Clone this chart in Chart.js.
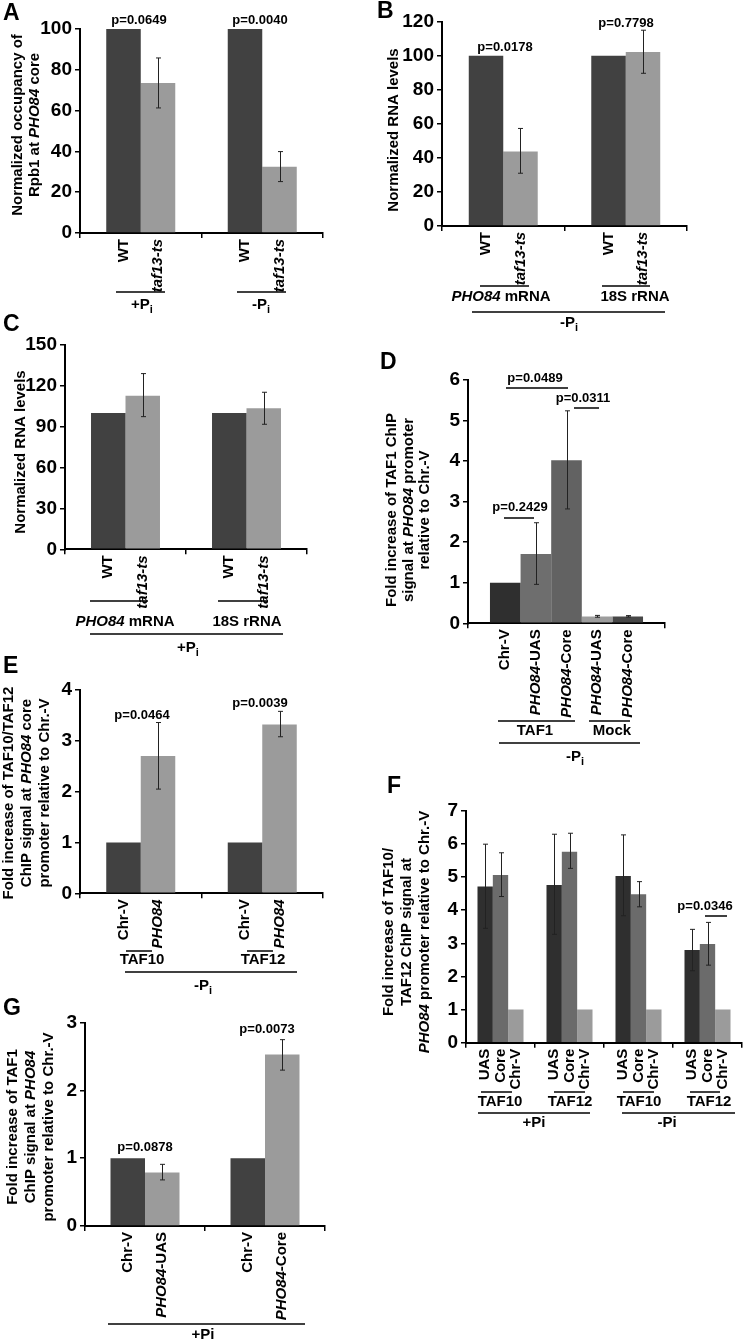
<!DOCTYPE html>
<html><head><meta charset="utf-8">
<script src="https://cdn.jsdelivr.net/npm/chart.js@4.4.1/dist/chart.umd.min.js"></script>
<style>
html,body{margin:0;padding:0;background:#fff;}
#wrap{position:relative;width:745px;height:1342px;overflow:hidden;background:#fff;}
canvas{position:absolute;}
</style></head><body><div id="wrap"></div>
<script>
// ---------------- DATA ----------------
// Panel A: Rpb1 occupancy at PHO84 core
const A_groups = ['+Pi', '-Pi'];
const A_wt = [100, 100];
const A_taf = [73.5, 32.5];
const A_tafLow = [61.3, 25.2];
const A_tafHigh = [85.8, 39.9];
// Panel B: RNA levels, -Pi
const B_groups = ['PHO84 mRNA', '18S rRNA'];
const B_wt = [100, 100];
const B_taf = [43.8, 102.2];
const B_tafLow = [31.0, 89.7];
const B_tafHigh = [57.3, 115.0];
// Panel C: RNA levels, +Pi
const C_groups = ['PHO84 mRNA', '18S rRNA'];
const C_wt = [100, 100];
const C_taf = [112.8, 103.5];
const C_tafLow = [97.4, 91.8];
const C_tafHigh = [129.0, 115.3];
// Panel D: TAF1 ChIP, -Pi
const D_bars = ['Chr-V', 'PHO84-UAS', 'PHO84-Core', 'Mock PHO84-UAS', 'Mock PHO84-Core'];
const D_values = [1.0, 1.71, 4.02, 0.17, 0.17];
const D_low = [null, 0.96, 2.82, 0.15, 0.155];
const D_high = [null, 2.48, 5.24, 0.195, 0.19];
// Panel E: TAF10/TAF12 ChIP, -Pi
const E_groups = ['TAF10', 'TAF12'];
const E_chrV = [1, 1];
const E_pho84 = [2.70, 3.32];
const E_pho84Low = [2.05, 3.08];
const E_pho84High = [3.36, 3.58];
// Panel F: TAF10/TAF12 ChIP, +Pi / -Pi
const F_groups = ['TAF10 +Pi', 'TAF12 +Pi', 'TAF10 -Pi', 'TAF12 -Pi'];
const F_uas = [4.71, 4.76, 5.03, 2.80];
const F_uasLow = [3.45, 3.27, 3.83, 2.17];
const F_uasHigh = [5.99, 6.29, 6.27, 3.42];
const F_core = [5.06, 5.76, 4.48, 2.98];
const F_coreLow = [4.41, 5.26, 4.10, 2.34];
const F_coreHigh = [5.73, 6.32, 4.86, 3.63];
const F_chrV = [1, 1, 1, 1];
// Panel G: TAF1 ChIP, +Pi
const G_groups = ['UAS', 'Core'];
const G_chrV = [1, 1];
const G_pho84 = [0.79, 2.53];
const G_pho84Low = [0.68, 2.30];
const G_pho84High = [0.91, 2.75];

// ---------------- DRAWING HELPERS ----------------
const FONT = '"Liberation Sans", Arial, Helvetica, sans-serif';
const DARK = '#414141', LIGHT = '#9b9b9b';

function R(str){
  const out=[]; const re=/\*([^*]+)\*|_\{([^}]+)\}|([^*_]+)/g; let m;
  while((m=re.exec(str))){
    if(m[1]) out.push({t:m[1],i:true});
    else if(m[2]) out.push({t:m[2],sub:true});
    else out.push({t:m[3]});
  }
  return out;
}
function fontFor(s,size){
  return (s.i?'italic ':'')+'bold '+(s.sub?Math.round(size*0.72):size)+'px '+FONT;
}
function drawRich(ctx, segs, x, y, size, align){
  const ws = segs.map(s=>{ctx.font=fontFor(s,size);return ctx.measureText(s.t).width;});
  const total = ws.reduce((a,b)=>a+b,0);
  let sx = align==='center'? x-total/2 : align==='right'? x-total : x;
  ctx.textAlign='left'; ctx.textBaseline='middle'; ctx.fillStyle='#000';
  segs.forEach((s,k)=>{
    ctx.font=fontFor(s,size);
    ctx.fillText(s.t, sx, y+(s.sub?size*0.32:0));
    sx+=ws[k];
  });
}

function makePanel(p){
  const wrap=document.getElementById('wrap');
  const c=document.createElement('canvas');
  const [bx,by,bw,bh]=p.box;
  c.width=bw; c.height=bh;
  c.style.left=bx+'px'; c.style.top=by+'px'; c.style.width=bw+'px'; c.style.height=bh+'px';
  wrap.appendChild(c);
  const [al,at,ar,ab]=p.area;
  const yW=40, xH=6;
  const anno={
    id:'anno'+p.id,
    afterDatasetsDraw(chart){
      const ctx=chart.ctx, ys=chart.scales.y;
      ctx.save();
      ctx.strokeStyle='#222'; ctx.lineWidth=1;
      chart.data.datasets.forEach((ds,di)=>{
        if(!ds.errLow) return;
        const meta=chart.getDatasetMeta(di);
        meta.data.forEach((bar,i)=>{
          const lo=ds.errLow[i], hi=ds.errHigh[i];
          if(lo==null||hi==null) return;
          const x=Math.round(bar.x)+0.5, y1=ys.getPixelForValue(lo), y2=ys.getPixelForValue(hi);
          ctx.beginPath();
          ctx.moveTo(x,y1); ctx.lineTo(x,y2);
          ctx.moveTo(x-2.5,y1); ctx.lineTo(x+2.5,y1);
          ctx.moveTo(x-2.5,y2); ctx.lineTo(x+2.5,y2);
          ctx.stroke();
        });
      });
      ctx.restore();
    },
    afterDraw(chart){
      const ctx=chart.ctx;
      ctx.save();
      const top=chart.chartArea.bottom+6;
      chart.data.datasets.forEach((ds,di)=>{
        if(!ds.barLabels) return;
        const meta=chart.getDatasetMeta(di);
        meta.data.forEach((bar,i)=>{
          const lab=ds.barLabels[i]; if(!lab) return;
          ctx.save();
          ctx.translate(bar.x, top);
          ctx.rotate(-Math.PI/2);
          drawRich(ctx, R(lab), 0, 0, 15, 'right');
          ctx.restore();
        });
      });
      (p.yTitle||[]).forEach(l=>{
        ctx.save();
        ctx.translate(l[0]-bx, p.yTitleY-by);
        ctx.rotate(-Math.PI/2);
        drawRich(ctx, R(l[1]), 0, 0, 15, 'center');
        ctx.restore();
      });
      (p.texts||[]).forEach(t=>{
        drawRich(ctx, R(t[2]), t[0]-bx, t[1]-by, t[3]||15, t[4]||'center');
      });
      ctx.strokeStyle='#000'; ctx.lineWidth=1.5;
      (p.lines||[]).forEach(l=>{
        const yy=Math.round(l[2]-by);
        ctx.beginPath(); ctx.moveTo(l[0]-bx,yy); ctx.lineTo(l[1]-bx,yy); ctx.stroke();
      });
      ctx.restore();
    }
  };
  new Chart(c,{
    type:'bar',
    data:{labels:p.labels, datasets:p.datasets.map(d=>Object.assign({
      backgroundColor:d.color, borderWidth:0, barPercentage:1, categoryPercentage:p.catPct
    },d))},
    options:{
      responsive:false, animation:false, devicePixelRatio:1,
      layout:{autoPadding:false, padding:{left:al-bx-yW, top:at-by, right:bx+bw-ar, bottom:by+bh-ab-xH}},
      plugins:{legend:{display:false}, tooltip:{enabled:false}},
      scales:{
        x:{
          ticks:{display:false},
          grid:{display:true, drawOnChartArea:false, drawTicks:true, tickLength:5, color:'#000', lineWidth:1.5, offset:true},
          border:{color:'#000', width:2},
          afterFit(s){ s.height=xH; }
        },
        y:{
          min:0, max:p.yMax,
          ticks:{stepSize:p.yStep, color:'#000', padding:3, font:{family:FONT, weight:'bold', size:19}},
          grid:{display:true, drawOnChartArea:false, drawTicks:true, tickLength:5, color:'#000', lineWidth:1.5},
          border:{color:'#000', width:2},
          afterFit(s){ s.width=yW; }
        }
      }
    },
    plugins:[anno]
  });
}

// ---------------- PANELS ----------------
makePanel({
  id:'A', box:[0,0,372,320], area:[80,29,323,233], yMax:100, yStep:20, catPct:0.568,
  labels:A_groups,
  datasets:[
    {data:A_wt, color:DARK, barLabels:['WT','WT']},
    {data:A_taf, color:LIGHT, errLow:A_tafLow, errHigh:A_tafHigh, barLabels:['*taf13-ts*','*taf13-ts*']}
  ],
  yTitle:[[18,'Normalized occupancy of'],[35,'Rpb1 at *PHO84* core']], yTitleY:125,
  texts:[[3,14,'A',23,'left'],[139,20,'p=0.0649',13],[260,20,'p=0.0040',13],
         [142,305,'+P_{i}'],[261,305,'-P_{i}']],
  lines:[[116,165,292],[237,286,292]]
});
makePanel({
  id:'B', box:[372,0,373,335], area:[442,21.7,687,226], yMax:120, yStep:20, catPct:0.563,
  labels:B_groups,
  datasets:[
    {data:B_wt, color:DARK, barLabels:['WT','WT']},
    {data:B_taf, color:LIGHT, errLow:B_tafLow, errHigh:B_tafHigh, barLabels:['*taf13-ts*','*taf13-ts*']}
  ],
  yTitle:[[394,'Normalized RNA levels']], yTitleY:130,
  texts:[[377,12,'B',23,'left'],[505,47,'p=0.0178',13],[626,23,'p=0.7798',13],
         [501,297,'*PHO84* mRNA'],[635,297,'18S rRNA'],[569,323,'-P_{i}']],
  lines:[[480,529,286],[602,650,286],[472,665,312]]
});
makePanel({
  id:'C', box:[0,305,372,355], area:[65,345,307,549.3], yMax:150, yStep:30, catPct:0.57,
  labels:C_groups,
  datasets:[
    {data:C_wt, color:DARK, barLabels:['WT','WT']},
    {data:C_taf, color:LIGHT, errLow:C_tafLow, errHigh:C_tafHigh, barLabels:['*taf13-ts*','*taf13-ts*']}
  ],
  yTitle:[[21,'Normalized RNA levels']], yTitleY:452,
  texts:[[3,325,'C',23,'left'],
         [125,622,'*PHO84* mRNA'],[247,622,'18S rRNA'],[188,648,'+P_{i}']],
  lines:[[90,148,601],[218,268,601],[90,283,634]]
});
makePanel({
  id:'D', box:[372,340,373,430], area:[468,380,665,623.3], yMax:6, yStep:1, catPct:0.777,
  labels:['TAF1 / Mock'],
  datasets:[
    {data:[D_values[0]], color:'#2f2f2f', barLabels:['Chr-V']},
    {data:[D_values[1]], color:'#6e6e6e', errLow:[D_low[1]], errHigh:[D_high[1]], barLabels:['*PHO84*-UAS']},
    {data:[D_values[2]], color:'#626262', errLow:[D_low[2]], errHigh:[D_high[2]], barLabels:['*PHO84*-Core']},
    {data:[D_values[3]], color:'#9d9d9d', errLow:[D_low[3]], errHigh:[D_high[3]], barLabels:['*PHO84*-UAS']},
    {data:[D_values[4]], color:'#474747', errLow:[D_low[4]], errHigh:[D_high[4]], barLabels:['*PHO84*-Core']}
  ],
  yTitle:[[392,'Fold increase of TAF1 ChIP'],[409,'signal at *PHO84* promoter'],[425,'relative to Chr.-V']], yTitleY:510,
  texts:[[380,363,'D',23,'left'],[535,378,'p=0.0489',13],[583,398,'p=0.0311',13],[520,507,'p=0.2429',13],
         [535,731,'TAF1'],[612,731,'Mock'],[575,757,'-P_{i}']],
  lines:[[506,568,388],[574,599,408],[504,534,518],[498,575,721],[589,630,721],[499,640,743]]
});
makePanel({
  id:'E', box:[0,650,372,350], area:[80,690,323,893.3], yMax:4, yStep:1, catPct:0.568,
  labels:E_groups,
  datasets:[
    {data:E_chrV, color:DARK, barLabels:['Chr-V','Chr-V']},
    {data:E_pho84, color:LIGHT, errLow:E_pho84Low, errHigh:E_pho84High, barLabels:['*PHO84*','*PHO84*']}
  ],
  yTitle:[[9,'Fold increase of TAF10/TAF12'],[27,'ChIP signal at *PHO84* core'],[45,'promoter relative to Chr.-V']], yTitleY:793,
  texts:[[3,667,'E',23,'left'],[142,715,'p=0.0464',13],[260,703,'p=0.0039',13],
         [142,960,'TAF10'],[263,960,'TAF12'],[203,986,'-P_{i}']],
  lines:[[126,152,951],[247,273,951],[125,297,972]]
});
makePanel({
  id:'F', box:[372,770,373,370], area:[466,810.7,742,1042.7], yMax:7, yStep:1, catPct:0.667,
  labels:F_groups,
  datasets:[
    {data:F_uas, color:'#2f2f2f', errLow:F_uasLow, errHigh:F_uasHigh, barLabels:['UAS','UAS','UAS','UAS']},
    {data:F_core, color:'#6b6b6b', errLow:F_coreLow, errHigh:F_coreHigh, barLabels:['Core','Core','Core','Core']},
    {data:F_chrV, color:'#9b9b9b', barLabels:['Chr-V','Chr-V','Chr-V','Chr-V']}
  ],
  yTitle:[[389,'Fold increase of TAF10/'],[407,'TAF12 ChIP signal at'],[425,'*PHO84* promoter relative to Chr.-V']], yTitleY:932,
  texts:[[387,787,'F',23,'left'],[705,906,'p=0.0346',13],
         [500,1102,'TAF10'],[570,1102,'TAF12'],[639,1102,'TAF10'],[709,1102,'TAF12'],
         [534,1123,'+Pi'],[667,1123,'-Pi']],
  lines:[[705,727,916],[481,512,1092],[554,585,1092],[623,654,1092],[690,720,1092],[478,590,1113],[622,735,1113]]
});
makePanel({
  id:'G', box:[0,995,372,347], area:[85,1022.7,325,1226], yMax:3, yStep:1, catPct:0.575,
  labels:G_groups,
  datasets:[
    {data:G_chrV, color:DARK, barLabels:['Chr-V','Chr-V']},
    {data:G_pho84, color:LIGHT, errLow:G_pho84Low, errHigh:G_pho84High, barLabels:['*PHO84*-UAS','*PHO84*-Core']}
  ],
  yTitle:[[13,'Fold increase of TAF1'],[31,'ChIP signal at *PHO84*'],[49,'promoter relative to Chr.-V']], yTitleY:1127,
  texts:[[3,1009,'G',23,'left'],[145,1147,'p=0.0878',13],[267,1029,'p=0.0073',13],
         [203,1335,'+Pi']],
  lines:[[108,305,1324]]
});
</script></body></html>
